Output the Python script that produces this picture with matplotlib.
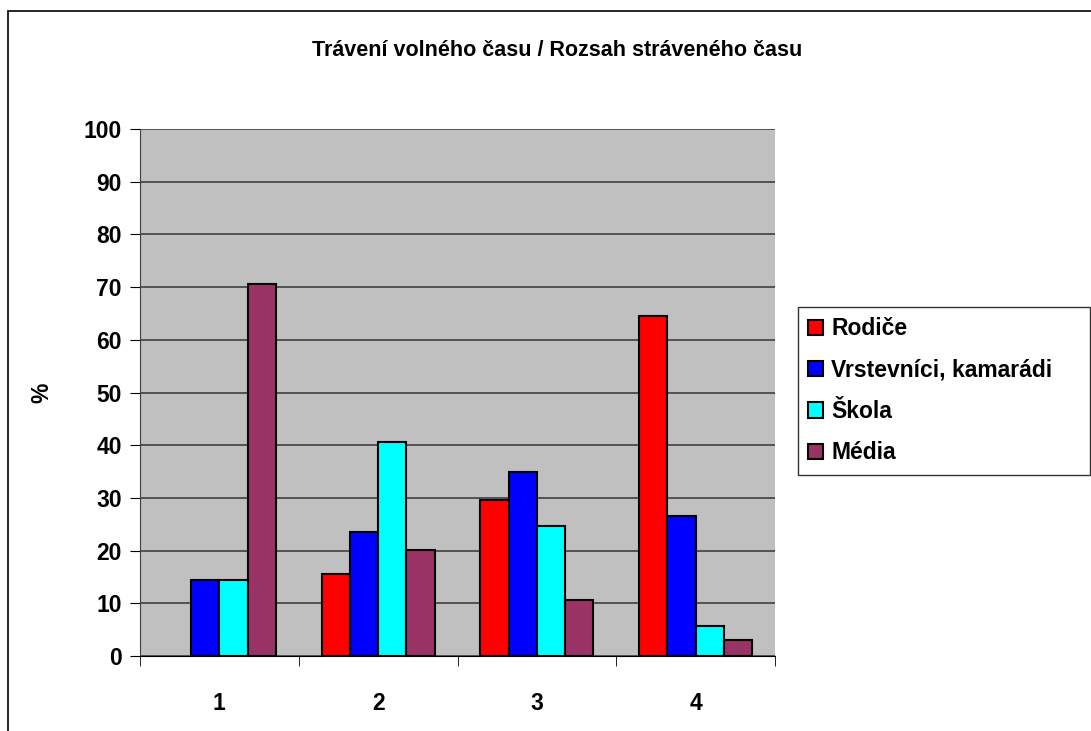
import numpy as np
import matplotlib
matplotlib.use('Agg')
import matplotlib.pyplot as plt
from matplotlib.patches import Rectangle, Patch

# data
categories = ['1', '2', '3', '4']
rodice = [0, 15.6, 29.6, 64.6]
vrstevnici = [14.4, 23.6, 35.0, 26.6]
skola = [14.4, 40.7, 24.7, 5.7]
media = [70.6, 20.1, 10.6, 3.0]
series_names = ['Rodiče', 'Vrstevníci, kamarádi', 'Škola', 'Média']
colors = ['#FF0000', '#0000FF', '#00FFFF', '#993366']

plt.rcParams['font.family'] = ['Liberation Sans', 'DejaVu Sans']
plt.rcParams['font.weight'] = 'bold'

fig = plt.figure(figsize=(10.91, 7.31), dpi=100)
# outer chart frame (left and top visible, rest cut off)
fig.patches.append(Rectangle((8/1091, -0.1), 1.2, 1 - 11/731 + 0.1, transform=fig.transFigure,
                             fill=False, edgecolor='black', linewidth=1.2))

ax = fig.add_axes([140/1091, 1 - 656/731, 635/1091, 527/731])
ax.set_facecolor('#C0C0C0')

x = np.arange(len(categories))
w = 0.178
data = [rodice, vrstevnici, skola, media]
for i, (vals, c) in enumerate(zip(data, colors)):
    bars = ax.bar(x + (i - 1.5) * w, vals, w, color=c, edgecolor='black', linewidth=1.5, zorder=3)
    for b, v in zip(bars, vals):
        if v == 0:
            b.set_visible(False)

ax.set_xlim(-0.5, 3.5)
ax.set_ylim(0, 100)
ax.set_yticks(range(0, 101, 10))
ax.yaxis.grid(True, color='#404040', linewidth=1.2, zorder=1)
ax.set_xticks(x)
ax.set_xticklabels(categories)
ax.tick_params(axis='x', length=0, pad=26, labelsize=16.5)
ax.set_xticks(np.arange(-0.5, 4, 1), minor=True)
ax.tick_params(axis='x', which='minor', length=7, color='black', direction='out')
ax.tick_params(axis='y', length=7, labelsize=16.5, pad=6)
for s in ['top', 'right']:
    ax.spines[s].set_visible(False)
ax.spines['left'].set_color('#404040')
ax.spines['bottom'].set_color('black')
ax.set_ylabel('%', fontsize=16.5, fontweight='bold', labelpad=22)

fig.text(557/1091, 1 - 51/731, 'Trávení volného času / Rozsah stráveného času',
         ha='center', va='center', fontsize=15.5, fontweight='bold')

handles = [Patch(facecolor=c, edgecolor='black', linewidth=1.5) for c in colors]
leg = fig.legend(handles, series_names, loc='upper left',
                 bbox_to_anchor=(798/1091, 1 - 475/731, 292/1091, 168/731),
                 bbox_transform=fig.transFigure, mode='expand',
                 fontsize=16.5, frameon=True, fancybox=False, edgecolor='black', handlelength=0.65,
                 handleheight=0.65, handletextpad=0.35, labelspacing=0.8, borderpad=0.45,
                 borderaxespad=0)
leg.get_frame().set_linewidth(1.0)
for t in leg.get_texts():
    t.set_fontweight('bold')

fig.savefig('out.png', dpi=100)
